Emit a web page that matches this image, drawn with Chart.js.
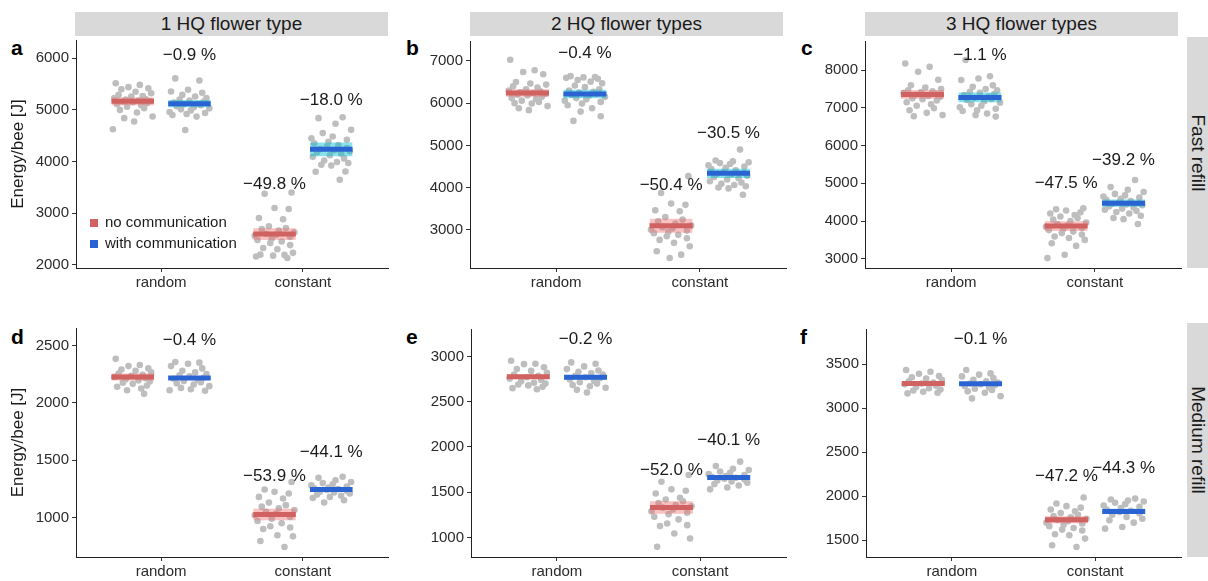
<!DOCTYPE html>
<html>
<head>
<meta charset="utf-8">
<script src="https://cdn.jsdelivr.net/npm/chart.js@4.4.1/dist/chart.umd.min.js"></script>
<style>
body { margin: 0; background: #fff; font-family: "Liberation Sans", Arial, sans-serif; }
#wrap { position: relative; width: 1208px; height: 581px; overflow: hidden; }
.strip { position: absolute; background: #d9d9d9; color: #1a1a1a; font-size: 19px;
         display: flex; align-items: center; justify-content: center; white-space: nowrap; }
.strip.side span { transform: rotate(90deg); display: block; }
.tag { position: absolute; font-weight: bold; font-size: 21px; line-height: 21px; color: #000; }
canvas { position: absolute; }
.legend { position: absolute; left: 90px; top: 211px; font-size: 15px; color: #1a1a1a; line-height: 21px; }
.legend i { display: inline-block; width: 8px; height: 8px; margin-right: 7px; vertical-align: 0px; }
</style>
</head>
<body>
<div id="wrap">
  <div class="strip" style="left:75px;top:12px;width:313px;height:24px">1 HQ flower type</div>
  <div class="strip" style="left:470px;top:12px;width:313px;height:24px">2 HQ flower types</div>
  <div class="strip" style="left:865px;top:12px;width:313px;height:24px">3 HQ flower types</div>
  <div class="strip side" style="left:1187px;top:37px;width:21px;height:231px"><span>Fast refill</span></div>
  <div class="strip side" style="left:1187px;top:323px;width:21px;height:234px"><span>Medium refill</span></div>

  <div class="tag" style="left:11px;top:37px">a</div>
  <div class="tag" style="left:406px;top:37px">b</div>
  <div class="tag" style="left:801px;top:37px">c</div>
  <div class="tag" style="left:11px;top:326px">d</div>
  <div class="tag" style="left:406px;top:326px">e</div>
  <div class="tag" style="left:800px;top:326px">f</div>

  <canvas id="pa"></canvas><canvas id="pb"></canvas><canvas id="pc"></canvas>
  <canvas id="pd"></canvas><canvas id="pe"></canvas><canvas id="pf"></canvas>

  <div class="legend">
    <div><i style="background:#d06262"></i>no communication</div>
    <div><i style="background:#2a64d2"></i>with communication</div>
  </div>
</div>

<script>
const CATEGORIES = ['random', 'constant'];
const GROUPS = ['no communication', 'with communication'];

// a: 1 HQ flower type, fast refill
const a_randomNo = [5516, 5484, 5440, 5420, 5400, 5350, 5323, 5290, 5270, 5258, 5230, 5210, 5200, 5180, 5170, 5160, 5150, 5130, 5110, 5090, 5060, 5032, 5000, 4950, 4871, 4840, 4775, 4626];
const a_randomWith = [5610, 5570, 5390, 5355, 5330, 5290, 5260, 5230, 5200, 5180, 5160, 5140, 5120, 5110, 5090, 5070, 5050, 5030, 5010, 4990, 4960, 4940, 4920, 4900, 4870, 4610];
const a_constantNo = [3400, 3375, 3100, 3078, 2904, 2880, 2745, 2710, 2690, 2660, 2630, 2600, 2580, 2560, 2540, 2510, 2480, 2450, 2420, 2380, 2324, 2300, 2230, 2195, 2190, 2175, 2160, 2130];
const a_constantWith = [4858, 4840, 4730, 4613, 4550, 4484, 4450, 4420, 4380, 4350, 4320, 4290, 4260, 4240, 4220, 4200, 4180, 4150, 4120, 4090, 4060, 4020, 3990, 3970, 3936, 3920, 3807, 3800, 3646];
const a_means = [5165, 5119, 2593, 4235];
const a_ci = [75, 70, 115, 135];
const a_labelY = [6065, 3562, 5194];
const a_yTicks = [2000, 3000, 4000, 5000, 6000];
const a_yRange = [1936, 6354];

// b: 2 HQ flower types, fast refill
const b_randomNo = [7030, 6780, 6740, 6685, 6500, 6465, 6440, 6400, 6370, 6330, 6300, 6280, 6260, 6240, 6220, 6200, 6180, 6150, 6120, 6100, 6060, 6030, 6000, 5990, 5930, 5880, 5835];
const b_randomWith = [6640, 6620, 6610, 6600, 6580, 6550, 6510, 6470, 6420, 6380, 6330, 6300, 6270, 6250, 6230, 6200, 6180, 6150, 6120, 6090, 6060, 6030, 5990, 5950, 5880, 5800, 5690, 5580];
const b_constantNo = [4270, 3870, 3620, 3590, 3460, 3440, 3300, 3240, 3200, 3150, 3100, 3060, 3030, 3000, 2980, 2950, 2920, 2880, 2845, 2800, 2760, 2690, 2610, 2490, 2410, 2330];
const b_constantWith = [4900, 4640, 4620, 4600, 4580, 4560, 4530, 4500, 4470, 4440, 4410, 4380, 4350, 4330, 4310, 4280, 4250, 4220, 4190, 4150, 4120, 4090, 4060, 4030, 4000, 3980, 3830];
const b_means = [6240, 6215, 3095, 4337];
const b_ci = [90, 100, 165, 110];
const b_labelY = [7173, 4064, 5284];
const b_yTicks = [3000, 4000, 5000, 6000, 7000];
const b_yRange = [2094, 7473];

// c: 3 HQ flower types, fast refill
const c_randomNo = [8180, 8090, 7960, 7750, 7600, 7540, 7500, 7470, 7440, 7420, 7400, 7380, 7350, 7320, 7290, 7260, 7230, 7200, 7150, 7100, 7060, 6990, 6940, 6870, 6810, 6780];
const c_randomWith = [8270, 7840, 7780, 7740, 7600, 7560, 7500, 7470, 7430, 7400, 7370, 7340, 7300, 7270, 7240, 7210, 7180, 7140, 7100, 7060, 7020, 6980, 6940, 6920, 6850, 6810, 6770];
const c_constantNo = [4340, 4310, 4280, 4230, 4200, 4160, 4120, 4080, 4040, 4000, 3960, 3920, 3880, 3850, 3820, 3790, 3760, 3720, 3680, 3640, 3590, 3550, 3500, 3410, 3340, 3105, 3017];
const c_constantWith = [5090, 4900, 4830, 4770, 4720, 4680, 4650, 4620, 4590, 4560, 4530, 4500, 4480, 4460, 4440, 4420, 4390, 4360, 4330, 4300, 4270, 4240, 4200, 4140, 4080, 4050, 3920];
const c_means = [7360, 7280, 3865, 4475];
const c_ci = [115, 128, 130, 95];
const c_labelY = [8397, 5001, 5601];
const c_yTicks = [3000, 4000, 5000, 6000, 7000, 8000];
const c_yRange = [2754, 8776];

// d: 1 HQ flower type, medium refill
const d_randomNo = [2383, 2330, 2320, 2300, 2290, 2280, 2265, 2255, 2245, 2235, 2225, 2215, 2205, 2195, 2185, 2175, 2165, 2150, 2140, 2125, 2110, 2078];
const d_randomWith = [2355, 2350, 2340, 2320, 2300, 2280, 2265, 2250, 2240, 2230, 2220, 2210, 2200, 2190, 2180, 2170, 2160, 2145, 2130, 2118, 2110, 2105];
const d_constantNo = [1310, 1244, 1224, 1209, 1180, 1166, 1130, 1108, 1095, 1080, 1065, 1050, 1035, 1020, 1005, 990, 970, 950, 924, 913, 900, 845, 836, 796, 743];
const d_constantWith = [1355, 1346, 1325, 1310, 1300, 1290, 1280, 1270, 1262, 1255, 1248, 1240, 1232, 1225, 1218, 1210, 1200, 1190, 1180, 1170, 1151, 1131];
const d_means = [2225, 2216, 1026, 1244];
const d_ci = [30, 18, 50, 18];
const d_labelY = [2544, 1361, 1565];
const d_yTicks = [1000, 1500, 2000, 2500];
const d_yRange = [656, 2652];

// e: 2 HQ flower types, medium refill
const e_randomNo = [2952, 2920, 2915, 2880, 2860, 2840, 2820, 2800, 2785, 2770, 2755, 2740, 2725, 2710, 2700, 2690, 2680, 2665, 2650, 2638];
const e_randomWith = [2934, 2919, 2890, 2860, 2845, 2830, 2815, 2800, 2785, 2770, 2760, 2745, 2730, 2715, 2700, 2685, 2670, 2655, 2631, 2601];
const e_constantNo = [1690, 1616, 1532, 1517, 1487, 1440, 1420, 1400, 1380, 1360, 1345, 1330, 1310, 1290, 1275, 1258, 1230, 1200, 1155, 1137, 1126, 1044, 989, 897];
const e_constantWith = [1838, 1790, 1760, 1745, 1730, 1715, 1700, 1690, 1680, 1670, 1660, 1650, 1640, 1630, 1620, 1605, 1590, 1575, 1553, 1532];
const e_means = [2775, 2770, 1332, 1662];
const e_ci = [25, 25, 70, 20];
const e_labelY = [3185, 1745, 2077];
const e_yTicks = [1000, 1500, 2000, 2500, 3000];
const e_yRange = [785, 3303];

// f: 3 HQ flower types, medium refill
const f_randomNo = [3432, 3413, 3390, 3364, 3350, 3335, 3320, 3305, 3290, 3280, 3270, 3255, 3240, 3225, 3210, 3200, 3186, 3175, 3167];
const f_randomWith = [3432, 3394, 3380, 3360, 3340, 3320, 3305, 3290, 3280, 3270, 3260, 3250, 3235, 3220, 3205, 3190, 3174, 3136, 3110];
const f_constantNo = [1985, 1917, 1887, 1870, 1850, 1830, 1810, 1790, 1775, 1760, 1745, 1730, 1715, 1700, 1690, 1675, 1660, 1640, 1621, 1610, 1568, 1557, 1519, 1443, 1424];
const f_constantWith = [1973, 1962, 1950, 1940, 1925, 1910, 1895, 1880, 1865, 1850, 1835, 1820, 1805, 1790, 1765, 1745, 1727, 1700, 1651, 1632];
const f_means = [3280, 3277, 1732, 1827];
const f_ci = [20, 20, 40, 30];
const f_labelY = [3780, 2227, 2322];
const f_yTicks = [1500, 2000, 2500, 3000, 3500];
const f_yRange = [1310, 3898];

// fixed horizontal spread for the dots (category units)
const JITTER = [-0.12, 0.05, -0.03, 0.11, -0.08, 0.02, 0.13, -0.10, 0.07, -0.01, -0.13, 0.09, -0.05, 0.04,
                0.12, -0.07, 0.00, 0.10, -0.11, 0.06, -0.04, 0.08, -0.09, 0.03, 0.14, -0.06, 0.01, -0.14, 0.11, -0.02];

const FONT = '"Liberation Sans", Arial, sans-serif';
const LINE_COLORS = ['#d06262', '#2a64d2'];
const BAND_COLORS = ['rgba(240,110,110,0.42)', 'rgba(0,190,210,0.45)'];
const DOT_COLOR = '#bebebe';
const DODGE = 0.2, HALF_BAR = 0.15;

// group order: random/no, random/with, constant/no, constant/with
const groupX = g => (g < 2 ? 1 : 2) + (g % 2 === 0 ? -DODGE : DODGE);

const panels = [
  { id: 'pa', pts: [a_randomNo, a_randomWith, a_constantNo, a_constantWith], means: a_means, ci: a_ci,
    labelY: a_labelY, yTicks: a_yTicks, yRange: a_yRange, yTitle: true,
    box: { left: 0, top: 26, width: 392, height: 264, axisW: 76, padRight: 2, axisH: 22 } },
  { id: 'pb', pts: [b_randomNo, b_randomWith, b_constantNo, b_constantWith], means: b_means, ci: b_ci,
    labelY: b_labelY, yTicks: b_yTicks, yRange: b_yRange,
    box: { left: 400, top: 27, width: 390, height: 263, axisW: 70, padRight: 3, axisH: 22 } },
  { id: 'pc', pts: [c_randomNo, c_randomWith, c_constantNo, c_constantWith], means: c_means, ci: c_ci,
    labelY: c_labelY, yTicks: c_yTicks, yRange: c_yRange,
    box: { left: 795, top: 27, width: 390, height: 263, axisW: 70, padRight: 4, axisH: 22 } },
  { id: 'pd', pts: [d_randomNo, d_randomWith, d_constantNo, d_constantWith], means: d_means, ci: d_ci,
    labelY: d_labelY, yTicks: d_yTicks, yRange: d_yRange, yTitle: true,
    box: { left: 0, top: 314, width: 392, height: 267, axisW: 76, padRight: 2, axisH: 24 } },
  { id: 'pe', pts: [e_randomNo, e_randomWith, e_constantNo, e_constantWith], means: e_means, ci: e_ci,
    labelY: e_labelY, yTicks: e_yTicks, yRange: e_yRange,
    box: { left: 400, top: 315, width: 390, height: 266, axisW: 71, padRight: 3, axisH: 24 } },
  { id: 'pf', pts: [f_randomNo, f_randomWith, f_constantNo, f_constantWith], means: f_means, ci: f_ci,
    labelY: f_labelY, yTicks: f_yTicks, yRange: f_yRange,
    box: { left: 795, top: 315, width: 390, height: 266, axisW: 71, padRight: 4, axisH: 24 } }
];

// change relative to random / no communication, e.g. "−18.0 %"
function pctText(value, base) {
  return ((value - base) / base * 100).toFixed(1).replace('-', '\u2212') + ' %';
}

function buildDatasets(p) {
  const lines = [], bands = [], dots = [];
  p.means.forEach((m, g) => {
    const x = groupX(g);
    lines.push({
      data: [{ x: x - HALF_BAR, y: m }, { x: x + HALF_BAR, y: m }],
      borderColor: LINE_COLORS[g % 2], borderWidth: 5, pointRadius: 0, fill: false
    });
  });
  p.means.forEach((m, g) => {
    const x = groupX(g);
    const loIndex = 4 + bands.length;
    bands.push({
      data: [{ x: x - HALF_BAR, y: m - p.ci[g] }, { x: x + HALF_BAR, y: m - p.ci[g] }],
      borderWidth: 0, borderColor: 'rgba(0,0,0,0)', pointRadius: 0, fill: false
    });
    bands.push({
      data: [{ x: x - HALF_BAR, y: m + p.ci[g] }, { x: x + HALF_BAR, y: m + p.ci[g] }],
      borderWidth: 0, borderColor: 'rgba(0,0,0,0)', pointRadius: 0,
      fill: loIndex, backgroundColor: BAND_COLORS[g % 2]
    });
  });
  p.pts.forEach((vals, g) => {
    const x = groupX(g);
    dots.push({
      data: vals.map((v, i) => ({ x: x + JITTER[(i + g * 7) % JITTER.length], y: v })),
      showLine: false, pointRadius: 3.3, pointBackgroundColor: DOT_COLOR,
      pointBorderWidth: 0, borderColor: DOT_COLOR
    });
  });
  return lines.concat(bands, dots);
}

function percentLabels(p) {
  return {
    id: 'percentLabels',
    afterDatasetsDraw(chart) {
      const { ctx, scales: { x, y } } = chart;
      ctx.save();
      ctx.font = '17px ' + FONT;
      ctx.fillStyle = '#1a1a1a';
      ctx.textAlign = 'center';
      ctx.textBaseline = 'middle';
      [1, 2, 3].forEach((g, i) => {
        ctx.fillText(pctText(p.means[g], p.means[0]),
          x.getPixelForValue(groupX(g)), y.getPixelForValue(p.labelY[i]));
      });
      ctx.restore();
    }
  };
}

panels.forEach(p => {
  const el = document.getElementById(p.id);
  const b = p.box;
  el.width = b.width; el.height = b.height;
  el.style.left = b.left + 'px'; el.style.top = b.top + 'px';
  el.style.width = b.width + 'px'; el.style.height = b.height + 'px';

  new Chart(el.getContext('2d'), {
    type: 'line',
    data: { datasets: buildDatasets(p) },
    plugins: [percentLabels(p)],
    options: {
      responsive: false,
      animation: false,
      events: [],
      layout: { padding: { top: 14, right: b.padRight, left: 0, bottom: 0 } },
      plugins: { legend: { display: false }, tooltip: { enabled: false } },
      scales: {
        x: {
          type: 'linear', min: 0.4, max: 2.6,
          afterBuildTicks: s => { s.ticks = [{ value: 1 }, { value: 2 }]; },
          afterFit: s => { s.height = b.axisH; },
          ticks: {
            callback: v => CATEGORIES[v - 1],
            font: { family: FONT, size: 15 }, color: '#2b2b2b', padding: 2, maxRotation: 0
          },
          grid: { drawOnChartArea: false, drawTicks: true, tickLength: 4, color: '#333' },
          border: { display: true, color: '#222', width: 1 }
        },
        y: {
          min: p.yRange[0], max: p.yRange[1],
          afterBuildTicks: s => { s.ticks = p.yTicks.map(v => ({ value: v })); },
          afterFit: s => { s.width = b.axisW; },
          ticks: {
            callback: v => String(v),
            font: { family: FONT, size: 15 }, color: '#2b2b2b', padding: 3
          },
          grid: { drawOnChartArea: false, drawTicks: true, tickLength: 4, color: '#333' },
          border: { display: true, color: '#222', width: 1 },
          title: {
            display: !!p.yTitle, text: 'Energy/bee [J]',
            font: { family: FONT, size: 17 }, color: '#1a1a1a', padding: { top: 8, bottom: 4 }
          }
        }
      }
    }
  });
});
</script>
</body>
</html>
